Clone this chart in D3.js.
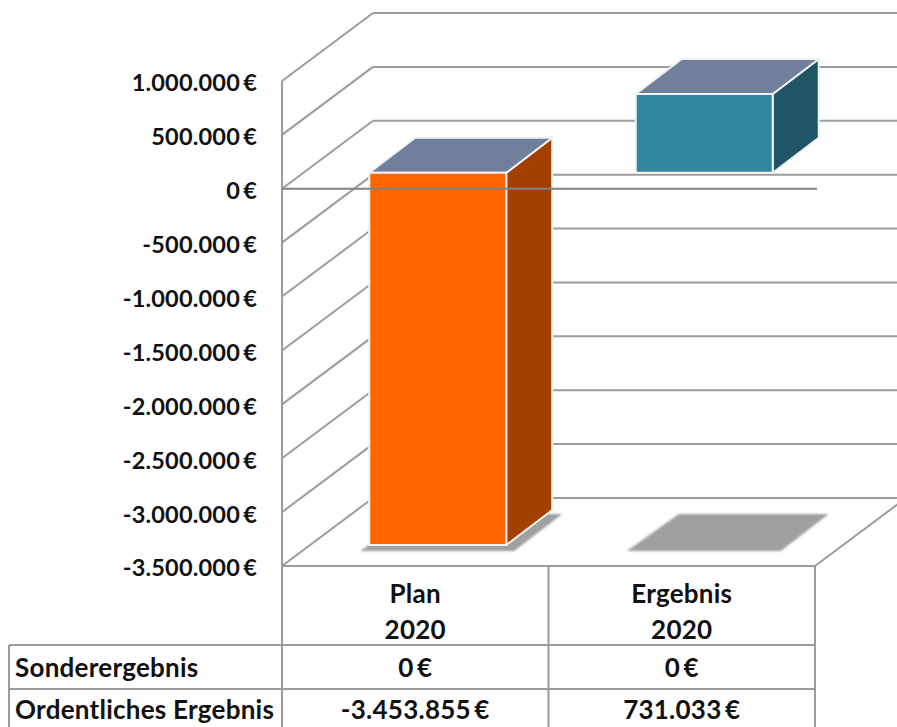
<!DOCTYPE html>
<html lang="de">
<head>
<meta charset="utf-8">
<script src="https://cdn.jsdelivr.net/npm/d3@7"></script>
<style>
  html, body { margin: 0; padding: 0; background: #fff; overflow: hidden; }
  svg { display: block; }
  text { font-family: Lato, "Open Sans", sans-serif; font-weight: 700; font-size: 26px; letter-spacing: 0.25px; fill: #111; }
</style>
</head>
<body>
<svg id="chart" width="897" height="727"></svg>
<script>
// Jahresergebnis: Plan gegen Ist, als 3D-Säulen mit Datentabelle
const categories = ["Plan", "Ergebnis"];
const years = ["2020", "2020"];
const ordentlich = [-3453855, 731033];
const sonder = [0, 0];
const rowLabels = ["Sonderergebnis", "Ordentliches Ergebnis"];
const tickValues = [1000000, 500000, 0, -500000, -1000000, -1500000, -2000000, -2500000, -3000000, -3500000];
const frontColors = ["#FF6600", "#31859C"];
const sideColors = ["#A34000", "#1F5565"];
const topColor = "#6F7F9C";

const width = 897, height = 727;
const plot = { left: 282, right: 815, top: 81, bottom: 566 };
const wall = { dx: 91, dy: -68 };        // Versatz der Rückwand
const barShift = { dx: 22.5, dy: -16 };  // Lage der Säulen in der Tiefe
const barDepth = { dx: 46, dy: -35 };    // Tiefe der Säulen selbst
const table = { left: 9, header: 645, row: 689, bottom: 727 };
const gridColor = "#9C9C9C";

const svg = d3.select("#chart");

const de = d3.formatLocale({ decimal: ",", thousands: ".", grouping: [3], currency: ["", ""] });
const fmt = v => de.format(",.0f")(v).replace("−", "-") + "\u2009€";

const y = d3.scaleLinear().domain([-3500000, 1000000]).range([plot.bottom, plot.top]);
const x = d3.scaleBand().domain(categories).range([plot.left, plot.right]).paddingInner(0).paddingOuter(0);
const barWidth = x.bandwidth() * 0.514;
const barLeft = c => x(c) + barShift.dx + (x.bandwidth() - barWidth) / 2;

const line = (g, x1, y1, x2, y2, color = gridColor, w = 2) =>
  g.append("line").attr("x1", x1).attr("y1", y1).attr("x2", x2).attr("y2", y2)
    .attr("stroke", color).attr("stroke-width", w);

svg.append("defs").append("filter").attr("id", "soft")
  .attr("x", "-10%").attr("y", "-10%").attr("width", "120%").attr("height", "120%")
  .append("feGaussianBlur").attr("stdDeviation", 1.2);

// Wände und Boden
const grid = svg.append("g");
tickValues.forEach(t => {
  const yf = y(t);
  line(grid, plot.left, yf, plot.left + wall.dx, yf + wall.dy);
  line(grid, plot.left + wall.dx, yf + wall.dy, width, yf + wall.dy);
});
line(grid, plot.left, plot.top, plot.left, plot.bottom);
line(grid, plot.right, plot.bottom, plot.right + wall.dx, plot.bottom + wall.dy);

// Schatten auf dem Boden
const shadow = svg.append("g").attr("filter", "url(#soft)");
categories.forEach(c => {
  const l = barLeft(c) - 9, r = barLeft(c) + barWidth + 8, yb = plot.bottom - 15;
  shadow.append("polygon")
    .attr("points", [[l, yb], [r, yb], [r + 48, yb - 37], [l + 52, yb - 37]].join(" "))
    .attr("fill", "#A0A0A0");
});

// Säulen: Front, Seite, Deckel
const bars = svg.append("g").attr("stroke", "#F2F2F2").attr("stroke-width", 2).attr("stroke-linejoin", "round");
categories.forEach((c, i) => {
  const l = barLeft(c), r = l + barWidth;
  const yTop = y(Math.max(0, ordentlich[i])) + barShift.dy;
  const yBot = y(Math.min(0, ordentlich[i])) + barShift.dy;
  const d = barDepth;
  bars.append("polygon").attr("fill", sideColors[i])
    .attr("points", [[r, yTop], [r + d.dx, yTop + d.dy], [r + d.dx, yBot + d.dy], [r, yBot]].join(" "));
  bars.append("polygon").attr("fill", topColor)
    .attr("points", [[l, yTop], [r, yTop], [r + d.dx, yTop + d.dy], [l + d.dx, yTop + d.dy]].join(" "));
  bars.append("rect").attr("fill", frontColors[i])
    .attr("x", l).attr("y", yTop).attr("width", barWidth).attr("height", yBot - yTop);
});

// Nulllinie liegt über den Säulen
line(svg.append("g"), plot.left, y(0), plot.right + 2, y(0), "#808080", 2);

// Wertachse
const axis = svg.append("g").attr("transform", "translate(261,1.5)")
  .call(d3.axisLeft(y).tickValues(tickValues).tickSize(0).tickPadding(4).tickFormat(fmt));
axis.select(".domain").remove();
axis.selectAll("text").attr("dy", "0.36em").style("font-size", "23.5px").style("font-family", "Lato").style("letter-spacing", "0.2px");

// Datentabelle
const tbl = svg.append("g");
line(tbl, plot.left, plot.bottom, plot.right, plot.bottom);
line(tbl, table.left, table.header, plot.right, table.header);
line(tbl, table.left, table.row, plot.right, table.row);
line(tbl, table.left, table.header, table.left, table.bottom);
line(tbl, plot.left, plot.bottom, plot.left, table.bottom);
line(tbl, x(categories[1]), plot.bottom, x(categories[1]), table.bottom);
line(tbl, plot.right, plot.bottom, plot.right, table.bottom);

const cell = (txt, cx, cy, anchor = "middle") =>
  tbl.append("text").attr("x", cx).attr("y", cy).attr("text-anchor", anchor)
    .attr("dominant-baseline", "central").text(txt);

categories.forEach((c, i) => {
  const cx = x(c) + x.bandwidth() / 2;
  cell(c, cx, 593);
  cell(years[i], cx, 629);
  cell(fmt(sonder[i]), cx, 667);
  cell(fmt(ordentlich[i]), cx, 709);
});
cell(rowLabels[0], 15, 667, "start");
cell(rowLabels[1], 15, 709, "start");
</script>
</body>
</html>
